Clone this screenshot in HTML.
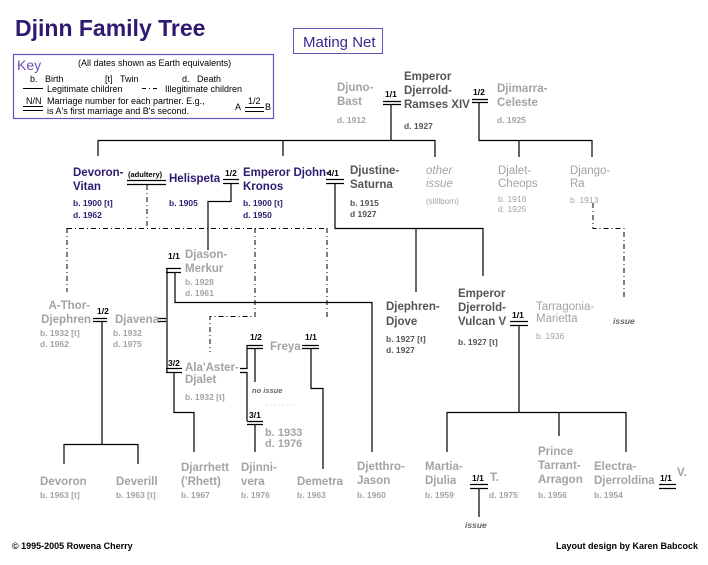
<!DOCTYPE html>
<html><head><meta charset="utf-8"><style>
html,body{margin:0;padding:0;background:#fff}
svg text{font-family:"Liberation Sans",Arial,sans-serif;font-weight:bold}
.n{font-size:11.5px}
.d{font-size:8.5px}
.g{fill:#a3a3a3}.k{fill:#555}.p{fill:#2e1a6e}
.m{font-size:8.5px;fill:#000}
.i{font-style:italic}
.kt{font-size:9px;font-weight:normal}
</style></head><body>
<svg width="708" height="560" viewBox="0 0 708 560" xmlns="http://www.w3.org/2000/svg">
<text x="15" y="36" style="font-size:23px" fill="#2e1a6e">Djinn Family Tree</text>
<rect x="293.5" y="28.5" width="89" height="25" fill="none" stroke="#6a4fb5"/>
<text x="303" y="47" style="font-size:15px;font-weight:normal" fill="#3b2690">Mating Net</text>
<rect x="13.5" y="54.5" width="260" height="64" fill="none" stroke="#6a4fb5" stroke-width="1.2"/>
<text x="17" y="70" style="font-size:14px;font-weight:normal" fill="#6a4fb5">Key</text>
<text x="78" y="66" class="kt">(All dates shown as Earth equivalents)</text>
<text x="30" y="82" class="kt">b.&#160;&#160;&#160;Birth</text>
<text x="105" y="82" class="kt">[t]&#160;&#160;&#160;Twin</text>
<text x="182" y="82" class="kt">d.&#160;&#160;&#160;Death</text>
<text x="47" y="92" class="kt">Legitimate children</text>
<text x="165" y="92" class="kt">Illegitimate children</text>
<text x="26" y="104" class="kt">N/N</text>
<text x="47" y="104" class="kt">Marriage number for each partner. E.g.,</text>
<text x="47" y="114" class="kt">is A's first marriage and B's second.</text>
<text x="235" y="110" class="kt">A</text>
<text x="248" y="104" class="kt">1/2</text>
<text x="265" y="110" class="kt">B</text>
<g stroke="#000" stroke-width="1" fill="none">
<path d="M23 88.5H43M23 106.5H43M23 110.5H43M245 107.5H264M245 111.5H264"/>
<path d="M142 88.5H160" stroke-dasharray="4,3,1,3"/>
</g>

<g stroke="#000" stroke-width="1.2" fill="none">
<path d="M383 101.5H401M383 104.5H401M391 104V140M98 140.5H435M98 140V156M283 140V156M435 140V157"/>
<path d="M472 99.5H488M472 102.5H488M479 102V140.5H592M519 140V157M592 140V157"/>
<path d="M127 180.5H166M127 184.5H166"/>
<path d="M223 179.5H239M223 183.5H239M231 183V201.5H208V250"/>
<path d="M326 179.5H344M326 183.5H344M335 183V228.5H483M416 228V292M483 228V276"/>
<path d="M166 268.5H181M166 272.5H181M167 268V372M175 272V302.5H372V452"/>
<path d="M157 318.5H166M157 321.5H166"/>
<path d="M93 318.5H107M93 321.5H107M102 321V444.5M64 444.5H138M64 444V464M138 444V464"/>
<path d="M166 368.5H182M166 372.5H182M174 372V412.5H194V452"/>
<path d="M240 368.5H247V345M247 345.5H263M247 348.5H263M255 348V382"/>
<path d="M302 345.5H319M302 348.5H319M311 348V388.5H323V469"/>
<path d="M240 372.5H247V421M247 421.5H263M247 424.5H263M255 424V452"/>
<path d="M510 321.5H528M510 325.5H528M519 325V412.5M447 412.5H626M447 412V452M559 412V436M626 412V452"/>
<path d="M470 484.5H488M470 488.5H488M479 488V517M659 484.5H676M659 488.5H676"/>
</g>
<g stroke="#000" stroke-width="1" fill="none" stroke-dasharray="5,3,1,3">
<path d="M147 185V228M67 228.5H327M67 228V292M255 228V316.5H210V352M327 228V318"/>
<path d="M593 203V228.5H624V300"/>
</g>
<path d="M266 405H295" stroke="#ddd" stroke-dasharray="2,2"/>

<text x="337" y="91" class="n g">Djuno-</text><text x="337" y="105" class="n g">Bast</text>
<text x="337" y="123" class="d g">d. 1912</text>
<text x="385" y="97" class="m">1/1</text>
<text x="404" y="80" class="n k">Emperor</text><text x="404" y="94" class="n k">Djerrold-</text><text x="404" y="108" class="n k">Ramses XIV</text>
<text x="404" y="129" class="d k">d. 1927</text>
<text x="473" y="95" class="m">1/2</text>
<text x="497" y="92" class="n g">Djimarra-</text><text x="497" y="106" class="n g">Celeste</text>
<text x="497" y="123" class="d g">d. 1925</text>

<text x="73" y="176" class="n p">Devoron-</text><text x="73" y="190" class="n p">Vitan</text>
<text x="73" y="206" class="d p">b. 1900 [t]</text><text x="73" y="218" class="d p">d. 1962</text>
<text x="128" y="177" class="m" style="font-size:7.5px">(adultery)</text>
<text x="169" y="182" class="n p">Helispeta</text>
<text x="169" y="206" class="d p">b. 1905</text>
<text x="225" y="176" class="m">1/2</text>
<text x="243" y="176" class="n p">Emperor Djohn-</text><text x="243" y="190" class="n p">Kronos</text>
<text x="243" y="206" class="d p">b. 1900 [t]</text><text x="243" y="218" class="d p">d. 1950</text>
<text x="327" y="176" class="m">4/1</text>
<text x="350" y="174" class="n k">Djustine-</text><text x="350" y="188" class="n k">Saturna</text>
<text x="350" y="206" class="d k">b. 1915</text><text x="350" y="217" class="d k">d 1927</text>
<text x="426" y="174" class="n g i" style="font-weight:normal">other</text><text x="426" y="187" class="n g i" style="font-weight:normal">issue</text>
<text x="426" y="204" class="d g" style="font-size:8px;font-weight:normal">(stillborn)</text>
<text x="498" y="174" class="n g" style="font-weight:normal">Djalet-</text><text x="498" y="187" class="n g" style="font-weight:normal">Cheops</text>
<text x="498" y="202" class="d g" style="font-weight:normal">b. 1916</text><text x="498" y="212" class="d g" style="font-weight:normal">d. 1925</text>
<text x="570" y="174" class="n g" style="font-weight:normal">Django-</text><text x="570" y="187" class="n g" style="font-weight:normal">Ra</text>
<text x="570" y="203" class="d g" style="font-weight:normal">b. 1913</text>
<text x="613" y="324" class="d g i" style="fill:#666">issue</text>

<text x="168" y="259" class="m">1/1</text>
<text x="185" y="258" class="n g">Djason-</text><text x="185" y="272" class="n g">Merkur</text>
<text x="185" y="285" class="d g">b. 1928</text><text x="185" y="296" class="d g">d. 1961</text>
<text x="90" y="309" class="n g" text-anchor="end">A-Thor-</text><text x="91" y="323" class="n g" text-anchor="end">Djephren</text>
<text x="40" y="336" class="d g">b. 1932 [t]</text><text x="40" y="347" class="d g">d. 1962</text>
<text x="97" y="314" class="m">1/2</text>
<text x="115" y="323" class="n g">Djavena</text>
<text x="113" y="336" class="d g">b. 1932</text><text x="113" y="347" class="d g">d. 1975</text>
<text x="168" y="366" class="m">3/2</text>
<text x="185" y="371" class="n g">Ala'Aster-</text><text x="185" y="383" class="n g">Djalet</text>
<text x="185" y="400" class="d g">b. 1932 [t]</text>
<text x="250" y="340" class="m">1/2</text>
<text x="270" y="350" class="n g">Freya</text>
<text x="305" y="340" class="m">1/1</text>
<text x="252" y="393" class="d i" style="font-size:7.5px;fill:#666">no issue</text>
<text x="249" y="418" class="m">3/1</text>
<text x="265" y="436" class="g" style="font-size:11px">b. 1933</text><text x="265" y="447" class="g" style="font-size:11px">d. 1976</text>
<text x="386" y="310" class="n k">Djephren-</text><text x="386" y="325" class="n k">Djove</text>
<text x="386" y="342" class="d k">b. 1927 [t]</text><text x="386" y="353" class="d k">d. 1927</text>
<text x="458" y="297" class="n k">Emperor</text><text x="458" y="311" class="n k">Djerrold-</text><text x="458" y="325" class="n k">Vulcan V</text>
<text x="458" y="345" class="d k">b. 1927 [t]</text>
<text x="512" y="318" class="m">1/1</text>
<text x="536" y="310" class="n g" style="font-weight:normal">Tarragonia-</text><text x="536" y="322" class="n g" style="font-weight:normal">Marietta</text>
<text x="536" y="339" class="d g" style="font-weight:normal">b. 1936</text>

<text x="40" y="485" class="n g">Devoron</text><text x="40" y="498" class="d g">b. 1963 [t]</text>
<text x="116" y="485" class="n g">Deverill</text><text x="116" y="498" class="d g">b. 1963 [t]</text>
<text x="181" y="471" class="n g">Djarrhett</text><text x="181" y="485" class="n g">('Rhett)</text><text x="181" y="498" class="d g">b. 1967</text>
<text x="241" y="471" class="n g">Djinni-</text><text x="241" y="485" class="n g">vera</text><text x="241" y="498" class="d g">b. 1976</text>
<text x="297" y="485" class="n g">Demetra</text><text x="297" y="498" class="d g">b. 1963</text>
<text x="357" y="470" class="n g">Djetthro-</text><text x="357" y="484" class="n g">Jason</text><text x="357" y="498" class="d g">b. 1960</text>
<text x="425" y="470" class="n g">Martia-</text><text x="425" y="484" class="n g">Djulia</text><text x="425" y="498" class="d g">b. 1959</text>
<text x="472" y="481" class="m">1/1</text>
<text x="490" y="481" class="n g">T.</text><text x="489" y="498" class="d g">d. 1975</text>
<text x="465" y="528" class="d i" style="fill:#666">issue</text>
<text x="538" y="455" class="n g">Prince</text><text x="538" y="469" class="n g">Tarrant-</text><text x="538" y="483" class="n g">Arragon</text><text x="538" y="498" class="d g">b. 1956</text>
<text x="594" y="470" class="n g">Electra-</text><text x="594" y="484" class="n g">Djerroldina</text><text x="594" y="498" class="d g">b. 1954</text>
<text x="660" y="481" class="m">1/1</text>
<text x="677" y="476" class="n g">V.</text>

<text x="12" y="549" style="font-size:9px">© 1995-2005 Rowena Cherry</text>
<text x="556" y="549" style="font-size:9px">Layout design by Karen Babcock</text>
</svg>
</body></html>
